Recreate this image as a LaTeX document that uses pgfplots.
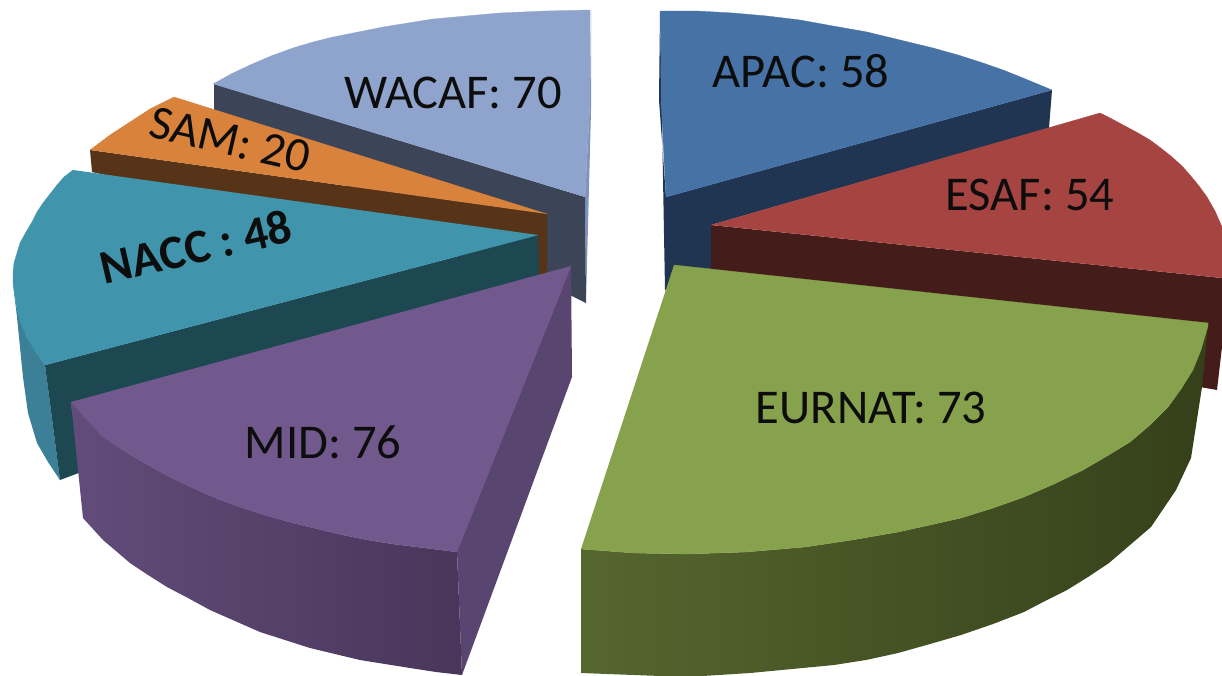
\documentclass[border=0pt]{standalone}
\usepackage{pgfplots}
\pgfplotsset{compat=1.18}
\usepackage{fontspec}
\setmainfont{Carlito}
\definecolor{apac}{HTML}{4672A5}\definecolor{apacd}{HTML}{1F3552}
\definecolor{esaf}{HTML}{A64441}\definecolor{esafd}{HTML}{441C1A}
\definecolor{eur}{HTML}{87A24D}\definecolor{eurl}{HTML}{56662F}\definecolor{eurr}{HTML}{35401A}
\definecolor{mid}{HTML}{71588D}\definecolor{midl}{HTML}{624C7A}\definecolor{midm}{HTML}{59456E}\definecolor{midr}{HTML}{49365A}\definecolor{mids}{HTML}{594670}
\definecolor{nacc}{HTML}{4095AD}\definecolor{naccs}{HTML}{3B8097}\definecolor{naccd}{HTML}{1D4852}
\definecolor{sam}{HTML}{D9823C}\definecolor{samd}{HTML}{573417}
\definecolor{wac}{HTML}{8EA4CC}\definecolor{wacd}{HTML}{3C4457}\definecolor{wacs}{HTML}{7F94B8}
\begin{document}
\begin{tikzpicture}
\begin{axis}[
  scale only axis, width=1222pt, height=675pt,
  xmin=0, xmax=1222, ymin=0, ymax=675, y dir=reverse,
  hide axis, clip=true
]
\path (axis cs:0,0) rectangle (axis cs:1222,675);
% WACAF
\addplot[fill=wacs,draw=none] coordinates {(591,10)(591,110)(586,303)(585,197)(590,100)};
\addplot[fill=wacd,draw=none] coordinates {(214,84)(585,197)(586,303)(214,120)};
\addplot[fill=wac,draw=wac,line width=0.3pt] coordinates {(213,84)(231,74)(250,65)(271,56)(293,48)(313,42)(333,37)(358,32)(383,27)(408,23)(433,19)(466,16)(500,13)(545,11)(590,10)(590,100)(585,197)};
% SAM
\addplot[fill=samd,draw=none] coordinates {(90,150)(547,214)(547,276)(92,172)};
\addplot[fill=sam,draw=sam,line width=0.3pt] coordinates {(90,150)(110,135)(130,122)(150,109)(174,97)(547,214)};
% NACC
\addplot[fill=naccs,draw=none] coordinates {(13,283)(17,310)(27,337)(45,365)(60,480)(48,462)(37,443)(28,413)(23,377)(17,317)};
\addplot[fill=naccd,draw=none] coordinates {(45,365)(538,235)(540,300)(60,480)};
\addplot[fill=nacc,draw=nacc,line width=0.3pt] coordinates {(73,170)(64,177)(57,185)(50,194)(43,203)(37,212)(32,222)(26,232)(20,243)(17,253)(14,263)(13,273)(13,283)(15,297)(17,310)(21,324)(27,337)(35,351)(45,365)(538,235)};
% MID
\addplot[fill=mids,draw=none] coordinates {(571,266)(457,551)(462,675)(572,377)};
\addplot[draw=none,left color=midl,middle color=midm,right color=midr] coordinates {(71,402)(87,420)(103,437)(122,450)(143,462)(168,476)(193,488)(218,499)(243,508)(268,516)(293,523)(318,529)(343,535)(368,540)(393,544)(425,548)(457,552)(462,675)(436,672)(410,668)(385,664)(360,660)(335,654)(310,648)(285,640)(260,632)(235,621)(210,610)(188,598)(167,587)(148,575)(130,563)(116,551)(103,540)(93,529)(83,518)};
\addplot[fill=mid,draw=mid,line width=0.3pt] coordinates {(71,402)(87,420)(103,437)(122,450)(143,462)(168,476)(193,488)(218,499)(243,508)(268,516)(293,523)(318,529)(343,535)(368,540)(393,544)(425,548)(457,552)(571,266)};
% APAC
\addplot[fill=apacd,draw=none] coordinates {(660,11)(659,100)(666,197)(1052,90)(1049,128)(711,225)(711,300)(665,290)};
\addplot[fill=apac,draw=apac,line width=0.3pt] coordinates {(660,11)(697,11)(733,13)(767,16)(800,20)(833,26)(867,32)(900,40)(933,48)(958,55)(983,63)(1003,70)(1023,78)(1052,90)(666,197)(661,100)};
% ESAF
\addplot[fill=esafd,draw=none] coordinates {(711,225)(1222,278)(1222,347)(1217,390)(1200,387)(711,300)};
\addplot[fill=esaf,draw=esaf,line width=0.3pt] coordinates {(711,225)(1100,113)(1112,119)(1125,126)(1138,133)(1150,140)(1162,149)(1172,157)(1182,166)(1190,175)(1199,186)(1207,197)(1215,211)(1222,227)(1222,278)};
% EURNAT
\addplot[draw=none,left color=eurl,middle color=eurr,right color=eurr] coordinates {(581,549)(634,553)(687,554)(746,552)(805,547)(852,540)(898,532)(930,525)(961,518)(993,508)(1024,497)(1054,484)(1083,470)(1107,456)(1130,442)(1150,425)(1168,407)(1181,389)(1193,370)(1201,350)(1208,326)(1202,387)(1191,458)(1176,490)(1151,527)(1130,545)(1109,563)(1088,577)(1067,590)(1045,601)(1024,612)(993,624)(961,635)(930,644)(898,653)(866,660)(834,665)(792,669)(750,673)(687,677)(581,673)};
\addplot[fill=eur,draw=eur,line width=0.3pt] coordinates {(674,265)(1208,323)(1208,326)(1201,350)(1193,370)(1181,389)(1168,407)(1150,425)(1130,442)(1107,456)(1083,470)(1054,484)(1024,497)(993,508)(961,518)(930,525)(898,532)(852,540)(805,547)(746,552)(687,554)(634,553)(581,549)};
% Labels
\node[font=\fontsize{48.5}{50}\selectfont,text=black!95,inner sep=0pt] at (axis cs:801,71) {APAC: 58};
\node[font=\fontsize{48.5}{50}\selectfont,text=black!95,inner sep=0pt] at (axis cs:1030,195) {ESAF: 54};
\node[font=\fontsize{48.5}{50}\selectfont,text=black!95,inner sep=0pt] at (axis cs:871,408) {EURNAT: 73};
\node[font=\fontsize{48.5}{50}\selectfont,text=black!95,inner sep=0pt] at (axis cs:323,442) {MID: 76};
\node[rotate=13,font=\fontsize{48}{50}\selectfont\bfseries,text=black!95,inner sep=0pt] at (axis cs:196,247) {NACC : 48};
\node[rotate=-13,font=\fontsize{48}{50}\selectfont,text=black!95,inner sep=0pt] at (axis cs:230,140) {SAM: 20};
\node[font=\fontsize{48.5}{50}\selectfont,text=black!95,inner sep=0pt] at (axis cs:453,93) {WACAF: 70};
\end{axis}
\end{tikzpicture}
\end{document}
